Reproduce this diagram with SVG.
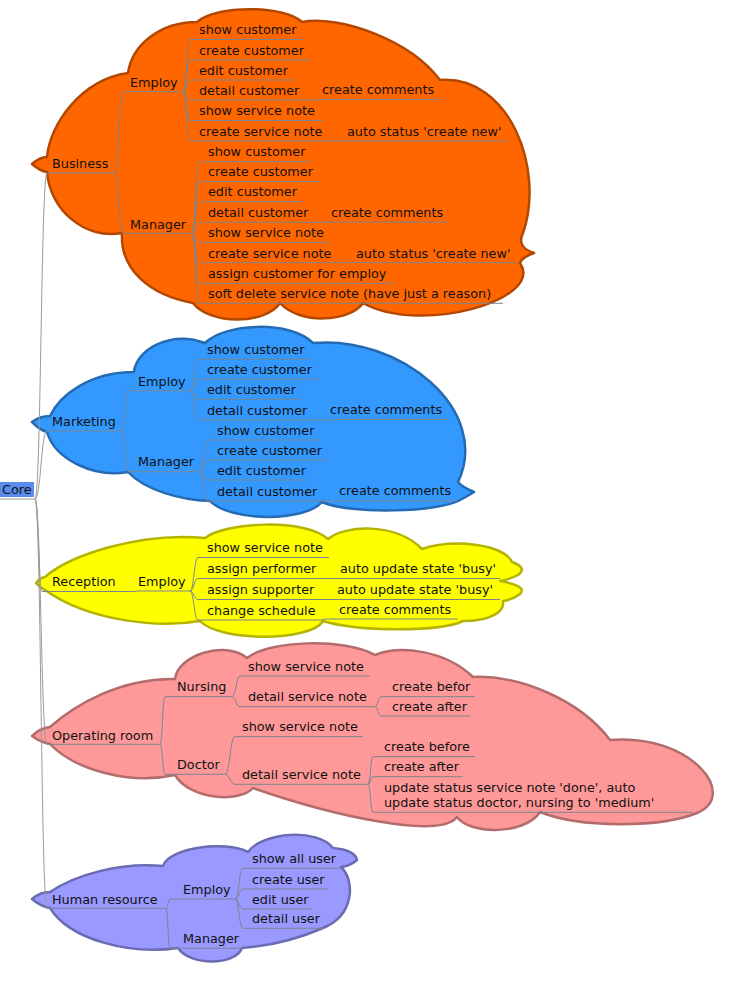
<svg xmlns="http://www.w3.org/2000/svg" width="752" height="988" viewBox="0 0 752 988">
<style>
.t{font-family:"DejaVu Sans","Liberation Sans",sans-serif;font-size:12.8px;fill:#111}
.u{stroke:#7a8591;stroke-width:1;fill:none}
.c{stroke:#7a8591;stroke-width:1;fill:none}
.cc{stroke:#9a9a9a;stroke-width:1;fill:none}
.cl{stroke-width:2.5;stroke-linejoin:round}
</style>
<rect width="752" height="988" fill="#fff"/>
<g id="clouds">
<path class="cl" fill="#FF6600" stroke="#B34700" d="M32,164 Q40,157 47,157 C50,125 80,80 128,73 C132,45 160,22 197,22 C215,5 285,5 302,22 C340,15 410,40 440,80 C510,75 545,170 523,233 Q516,247 534,253 Q522,257 520,263 C545,300 420,335 363,303 C350,322 300,325 280,303 C265,325 210,325 193,303 C150,295 120,270 122,233 C85,240 50,210 47,172 Q40,171 32,164 Z"/>
<path class="cl" fill="#3399FF" stroke="#246BB3" d="M32,422 Q40,416 50,416 C60,395 90,372 134,372 C136,350 170,330 205,343 C225,323 290,320 313,343 C400,335 492,410 458,482 Q462,487 474,492 Q466,497 460,500 C440,512 350,515 322,502 C305,522 230,522 210,501 C180,500 145,490 128,472 C95,478 55,460 47,432 Q40,430 32,422 Z"/>
<path class="cl" fill="#FFFF00" stroke="#B3B300" d="M36,583 Q40,578 45,577 C70,555 140,532 205,538 C225,522 305,518 328,539 C345,525 395,522 422,549 C455,538 505,545 512,562 Q528,568 518,575 Q508,580 500,581 Q528,586 520,594 Q512,600 503,601 C505,612 490,621 463,621 C440,632 360,632 323,621 C310,642 220,642 200,621 C160,628 90,622 45,590 Q40,588 36,583 Z"/>
<path class="cl" fill="#FF9999" stroke="#B36B6B" d="M32,736 Q40,728 50,727 C75,705 120,678 175,679 C178,655 225,640 247,658 C270,640 345,638 375,655 C400,645 445,650 473,677 C520,675 580,700 610,740 C690,733 740,795 697,813 C660,828 580,828 540,812 C525,835 470,835 457,817 C440,840 330,815 253,788 C240,803 190,800 175,775 C130,785 75,770 50,744 Q40,742 32,736 Z"/>
<path class="cl" fill="#9999FF" stroke="#6B6BB3" d="M32,899 Q40,892 50,892 C75,875 120,862 163,866 C168,848 225,840 248,852 C262,832 318,828 333,848 Q355,850 357,860 Q350,866 341,867 C355,880 355,915 323,928 C300,938 270,946 242,948 C235,966 190,966 178,948 C130,955 70,940 50,908 Q40,906 32,899 Z"/>
</g>
<g id="connectors">
<path class="cc" d="M35,499 C41,499 41,173 47,173"/>
<path class="cc" d="M35,499 C41,499 41,431 47,431"/>
<path class="cc" d="M35,499 C38.5,499 38.5,591.5 42,591.5"/>
<path class="cc" d="M35,499 C41,499 41,744.3 47,744.3"/>
<path class="cc" d="M35,499 C41,499 41,908.3 47,908.3"/>
<path class="c" d="M115,173 C119,173 119,91.7 123,91.7"/>
<path class="c" d="M115,173 C119,173 119,233.3 123,233.3"/>
<path class="c" d="M183,91.7 C186.5,91.7 186.5,39.5 190,39.5"/>
<path class="c" d="M183,91.7 C186.5,91.7 186.5,60 190,60"/>
<path class="c" d="M183,91.7 C186.5,91.7 186.5,80 190,80"/>
<path class="c" d="M183,91.7 C186.5,91.7 186.5,100 190,100"/>
<path class="c" d="M183,91.7 C186.5,91.7 186.5,120.5 190,120.5"/>
<path class="c" d="M183,91.7 C186.5,91.7 186.5,141 190,141"/>
<path class="c" d="M318,100 L320,99.5"/>
<path class="c" d="M343,141 L345,141"/>
<path class="c" d="M192,233.3 C195.5,233.3 195.5,161.7 199,161.7"/>
<path class="c" d="M192,233.3 C195.5,233.3 195.5,181.7 199,181.7"/>
<path class="c" d="M192,233.3 C195.5,233.3 195.5,201.7 199,201.7"/>
<path class="c" d="M192,233.3 C195.5,233.3 195.5,222.3 199,222.3"/>
<path class="c" d="M192,233.3 C195.5,233.3 195.5,242.3 199,242.3"/>
<path class="c" d="M192,233.3 C195.5,233.3 195.5,262.7 199,262.7"/>
<path class="c" d="M192,233.3 C195.5,233.3 195.5,283.3 199,283.3"/>
<path class="c" d="M192,233.3 C195.5,233.3 195.5,303.3 199,303.3"/>
<path class="c" d="M327,222.3 L329,222"/>
<path class="c" d="M352,262.7 L354,262.7"/>
<path class="c" d="M122,431 C125,431 125,390.7 128,390.7"/>
<path class="c" d="M122,431 C125,431 125,471.7 128,471.7"/>
<path class="c" d="M190,390.7 C194,390.7 194,359.3 198,359.3"/>
<path class="c" d="M190,390.7 C194,390.7 194,379.3 198,379.3"/>
<path class="c" d="M190,390.7 C194,390.7 194,399.3 198,399.3"/>
<path class="c" d="M190,390.7 C194,390.7 194,420 198,420"/>
<path class="c" d="M326,420 L328,419.5"/>
<path class="c" d="M200,471.7 C203.5,471.7 203.5,440 207,440"/>
<path class="c" d="M200,471.7 C203.5,471.7 203.5,460 207,460"/>
<path class="c" d="M200,471.7 C203.5,471.7 203.5,480 207,480"/>
<path class="c" d="M200,471.7 C203.5,471.7 203.5,501 207,501"/>
<path class="c" d="M335,501 L337,500.7"/>
<path class="c" d="M135,591.5 L137,591"/>
<path class="c" d="M190,591 C194,591 194,557.5 198,557.5"/>
<path class="c" d="M190,591 C194,591 194,578.5 198,578.5"/>
<path class="c" d="M190,591 C194,591 194,599.5 198,599.5"/>
<path class="c" d="M190,591 C194,591 194,620 198,620"/>
<path class="c" d="M334,578.5 L336,578.5"/>
<path class="c" d="M331,599.5 L333,599.5"/>
<path class="c" d="M322,620 L325,619"/>
<path class="c" d="M160,744.3 C162.5,744.3 162.5,696.7 165,696.7"/>
<path class="c" d="M160,744.3 C162.5,744.3 162.5,774.3 165,774.3"/>
<path class="c" d="M232,696.7 C236,696.7 236,676 240,676"/>
<path class="c" d="M232,696.7 C236,696.7 236,706.7 240,706.7"/>
<path class="c" d="M375,706.7 C378,706.7 378,696.7 381,696.7"/>
<path class="c" d="M375,706.7 C378,706.7 378,716 381,716"/>
<path class="c" d="M225,774.3 C230,774.3 230,736.7 235,736.7"/>
<path class="c" d="M225,774.3 C230,774.3 230,784.3 235,784.3"/>
<path class="c" d="M368,784.3 C370.5,784.3 370.5,756.7 373,756.7"/>
<path class="c" d="M368,784.3 C370.5,784.3 370.5,776.7 373,776.7"/>
<path class="c" d="M368,784.3 C370.5,784.3 370.5,812.3 373,812.3"/>
<path class="c" d="M166,908.3 C168,908.3 168,899 170,899"/>
<path class="c" d="M166,908.3 C168,908.3 168,948.3 170,948.3"/>
<path class="c" d="M235,899 C239,899 239,868.3 243,868.3"/>
<path class="c" d="M235,899 C239,899 239,889 243,889"/>
<path class="c" d="M235,899 C239,899 239,909 243,909"/>
<path class="c" d="M235,899 C239,899 239,928.3 243,928.3"/>
</g>
<g id="core"><rect x="0" y="482" width="34" height="15" fill="#5A8CF0"/><line class="cc" x1="0" y1="499" x2="35" y2="499"/><text class="t" x="2" y="494">Core</text></g>

<g id="business"><line class="u" x1="47" y1="173" x2="115" y2="173"/><text class="t" x="52" y="168">Business</text></g>
<g id="b-employ"><line class="u" x1="123" y1="91.7" x2="183" y2="91.7"/><text class="t" x="130" y="86.5">Employ</text></g>
<g id="b-e-show"><line class="u" x1="190" y1="39.5" x2="302" y2="39.5"/><text class="t" x="199" y="34">show customer</text></g>
<g id="b-e-create"><line class="u" x1="190" y1="60" x2="310" y2="60"/><text class="t" x="199" y="54.5">create customer</text></g>
<g id="b-e-edit"><line class="u" x1="190" y1="80" x2="292" y2="80"/><text class="t" x="199" y="74.5">edit customer</text></g>
<g id="b-e-detail"><line class="u" x1="190" y1="100" x2="318" y2="100"/><text class="t" x="199" y="94.5">detail customer</text></g>
<g id="b-e-detail-comments"><line class="u" x1="320" y1="99.5" x2="440" y2="99.5"/><text class="t" x="322" y="94">create comments</text></g>
<g id="b-e-shownote"><line class="u" x1="190" y1="120.5" x2="322" y2="120.5"/><text class="t" x="199" y="115">show service note</text></g>
<g id="b-e-createnote"><line class="u" x1="190" y1="141" x2="343" y2="141"/><text class="t" x="199" y="135.5">create service note</text></g>
<g id="b-e-createnote-auto"><line class="u" x1="345" y1="141" x2="508" y2="141"/><text class="t" x="347" y="135.5">auto status 'create new'</text></g>
<g id="b-manager"><line class="u" x1="123" y1="233.3" x2="192" y2="233.3"/><text class="t" x="130" y="228.5">Manager</text></g>
<g id="b-m-show"><line class="u" x1="199" y1="161.7" x2="312" y2="161.7"/><text class="t" x="208" y="156">show customer</text></g>
<g id="b-m-create"><line class="u" x1="199" y1="181.7" x2="320" y2="181.7"/><text class="t" x="208" y="176">create customer</text></g>
<g id="b-m-edit"><line class="u" x1="199" y1="201.7" x2="302" y2="201.7"/><text class="t" x="208" y="196">edit customer</text></g>
<g id="b-m-detail"><line class="u" x1="199" y1="222.3" x2="327" y2="222.3"/><text class="t" x="208" y="217">detail customer</text></g>
<g id="b-m-detail-comments"><line class="u" x1="329" y1="222" x2="449" y2="222"/><text class="t" x="331" y="216.5">create comments</text></g>
<g id="b-m-shownote"><line class="u" x1="199" y1="242.3" x2="330" y2="242.3"/><text class="t" x="208" y="237">show service note</text></g>
<g id="b-m-createnote"><line class="u" x1="199" y1="262.7" x2="352" y2="262.7"/><text class="t" x="208" y="257.5">create service note</text></g>
<g id="b-m-createnote-auto"><line class="u" x1="354" y1="262.7" x2="517" y2="262.7"/><text class="t" x="356" y="257.5">auto status 'create new'</text></g>
<g id="b-m-assign"><line class="u" x1="199" y1="283.3" x2="394" y2="283.3"/><text class="t" x="208" y="278">assign customer for employ</text></g>
<g id="b-m-softdelete"><line class="u" x1="199" y1="303.3" x2="503" y2="303.3"/><text class="t" x="208" y="298">soft delete service note (have just a reason)</text></g>

<g id="marketing"><line class="u" x1="47" y1="431" x2="122" y2="431"/><text class="t" x="52" y="425.5">Marketing</text></g>
<g id="m-employ"><line class="u" x1="128" y1="390.7" x2="190" y2="390.7"/><text class="t" x="138" y="385.5">Employ</text></g>
<g id="m-e-show"><line class="u" x1="198" y1="359.3" x2="310" y2="359.3"/><text class="t" x="207" y="354">show customer</text></g>
<g id="m-e-create"><line class="u" x1="198" y1="379.3" x2="318" y2="379.3"/><text class="t" x="207" y="374">create customer</text></g>
<g id="m-e-edit"><line class="u" x1="198" y1="399.3" x2="300" y2="399.3"/><text class="t" x="207" y="394">edit customer</text></g>
<g id="m-e-detail"><line class="u" x1="198" y1="420" x2="326" y2="420"/><text class="t" x="207" y="414.5">detail customer</text></g>
<g id="m-e-detail-comments"><line class="u" x1="328" y1="419.5" x2="448" y2="419.5"/><text class="t" x="330" y="414">create comments</text></g>
<g id="m-manager"><line class="u" x1="128" y1="471.7" x2="200" y2="471.7"/><text class="t" x="138" y="466">Manager</text></g>
<g id="m-m-show"><line class="u" x1="207" y1="440" x2="320" y2="440"/><text class="t" x="217" y="434.5">show customer</text></g>
<g id="m-m-create"><line class="u" x1="207" y1="460" x2="328" y2="460"/><text class="t" x="217" y="454.5">create customer</text></g>
<g id="m-m-edit"><line class="u" x1="207" y1="480" x2="308" y2="480"/><text class="t" x="217" y="474.5">edit customer</text></g>
<g id="m-m-detail"><line class="u" x1="207" y1="501" x2="335" y2="501"/><text class="t" x="217" y="495.5">detail customer</text></g>
<g id="m-m-detail-comments"><line class="u" x1="337" y1="500.7" x2="457" y2="500.7"/><text class="t" x="339" y="495">create comments</text></g>

<g id="reception"><line class="u" x1="42" y1="591.5" x2="135" y2="591.5"/><text class="t" x="52" y="586">Reception</text></g>
<g id="r-employ"><line class="u" x1="137" y1="591" x2="190" y2="591"/><text class="t" x="138" y="585.5">Employ</text></g>
<g id="r-e-shownote"><line class="u" x1="198" y1="557.5" x2="329" y2="557.5"/><text class="t" x="207" y="552">show service note</text></g>
<g id="r-e-performer"><line class="u" x1="198" y1="578.5" x2="334" y2="578.5"/><text class="t" x="207" y="573">assign performer</text></g>
<g id="r-e-performer-auto"><line class="u" x1="336" y1="578.5" x2="500" y2="578.5"/><text class="t" x="340" y="573">auto update state 'busy'</text></g>
<g id="r-e-supporter"><line class="u" x1="198" y1="599.5" x2="331" y2="599.5"/><text class="t" x="207" y="594">assign supporter</text></g>
<g id="r-e-supporter-auto"><line class="u" x1="333" y1="599.5" x2="500" y2="599.5"/><text class="t" x="337" y="594">auto update state 'busy'</text></g>
<g id="r-e-schedule"><line class="u" x1="198" y1="620" x2="322" y2="620"/><text class="t" x="207" y="614.5">change schedule</text></g>
<g id="r-e-schedule-comments"><line class="u" x1="325" y1="619" x2="458" y2="619"/><text class="t" x="339" y="614">create comments</text></g>

<g id="operating-room"><line class="u" x1="47" y1="744.3" x2="160" y2="744.3"/><text class="t" x="52" y="739.5">Operating room</text></g>
<g id="o-nursing"><line class="u" x1="165" y1="696.7" x2="232" y2="696.7"/><text class="t" x="177" y="691">Nursing</text></g>
<g id="o-n-shownote"><line class="u" x1="240" y1="676" x2="370" y2="676"/><text class="t" x="248" y="671">show service note</text></g>
<g id="o-n-detailnote"><line class="u" x1="240" y1="706.7" x2="375" y2="706.7"/><text class="t" x="248" y="701">detail service note</text></g>
<g id="o-n-d-befor"><line class="u" x1="381" y1="696.7" x2="475" y2="696.7"/><text class="t" x="392" y="691">create befor</text></g>
<g id="o-n-d-after"><line class="u" x1="381" y1="716" x2="470" y2="716"/><text class="t" x="392" y="711">create after</text></g>
<g id="o-doctor"><line class="u" x1="165" y1="774.3" x2="225" y2="774.3"/><text class="t" x="177" y="769">Doctor</text></g>
<g id="o-d-shownote"><line class="u" x1="235" y1="736.7" x2="363" y2="736.7"/><text class="t" x="242" y="731">show service note</text></g>
<g id="o-d-detailnote"><line class="u" x1="235" y1="784.3" x2="368" y2="784.3"/><text class="t" x="242" y="779">detail service note</text></g>
<g id="o-d-d-before"><line class="u" x1="373" y1="756.7" x2="475" y2="756.7"/><text class="t" x="384" y="751">create before</text></g>
<g id="o-d-d-after"><line class="u" x1="373" y1="776.7" x2="463" y2="776.7"/><text class="t" x="384" y="771">create after</text></g>
<g id="o-d-d-update"><line class="u" x1="373" y1="812.3" x2="693" y2="812.3"/><text class="t" x="384" y="791.5">update status service note 'done', auto</text><text class="t" x="384" y="807">update status doctor, nursing to 'medium'</text></g>

<g id="human-resource"><line class="u" x1="47" y1="908.3" x2="166" y2="908.3"/><text class="t" x="52" y="903.5">Human resource</text></g>
<g id="h-employ"><line class="u" x1="170" y1="899" x2="235" y2="899"/><text class="t" x="183" y="894">Employ</text></g>
<g id="h-e-showall"><line class="u" x1="243" y1="868.3" x2="340" y2="868.3"/><text class="t" x="252" y="863">show all user</text></g>
<g id="h-e-create"><line class="u" x1="243" y1="889" x2="328" y2="889"/><text class="t" x="252" y="883.5">create user</text></g>
<g id="h-e-edit"><line class="u" x1="243" y1="909" x2="312" y2="909"/><text class="t" x="252" y="903.5">edit user</text></g>
<g id="h-e-detail"><line class="u" x1="243" y1="928.3" x2="323" y2="928.3"/><text class="t" x="252" y="923">detail user</text></g>
<g id="h-manager"><line class="u" x1="170" y1="948.3" x2="242" y2="948.3"/><text class="t" x="183" y="943">Manager</text></g>
</svg>
